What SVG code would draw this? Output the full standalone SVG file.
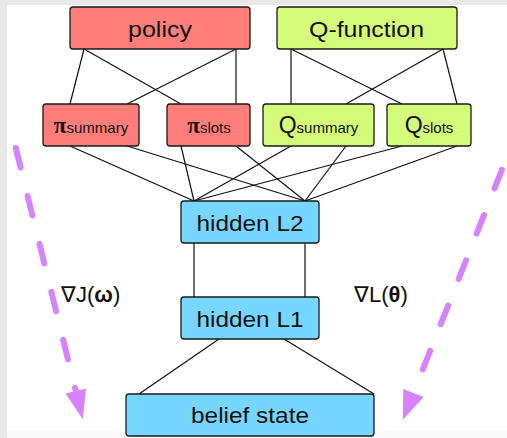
<svg xmlns="http://www.w3.org/2000/svg" width="507" height="438" viewBox="0 0 507 438">
  <style>
    .node rect { stroke: #1a1a1a; stroke-width: 1.3; }
    .red rect { fill: #ff7e79; }
    .green rect { fill: #d4fb79; }
    .blue rect { fill: #76d6ff; }
    .lbl { font-family: "Liberation Sans", Arial, sans-serif; font-size: 22px; fill: #111; text-anchor: middle; }
    .sub { font-family: "Liberation Sans", Arial, sans-serif; font-size: 15px; }
    .pi { font-family: "Liberation Serif", "Times New Roman", serif; font-weight: bold; font-size: 23px; }
    .q { font-family: "Liberation Sans", Arial, sans-serif; font-size: 23px; }
    .links line { stroke: #111; stroke-width: 1.2; }
    .grad line { stroke: #d783ff; stroke-width: 6; stroke-linecap: round; fill: none; }
    .grad polygon { fill: #d783ff; }
    .math { font-family: "Liberation Sans", Arial, sans-serif; font-size: 22px; fill: #111; }
    .bold { font-weight: bold; }
  </style>

  <!-- page background with soft frame edges -->
  <rect x="0" y="0" width="507" height="438" fill="#e8e8e8"/>
  <rect x="7" y="5" width="500" height="433" fill="#ffffff"/>
  <rect x="7" y="431" width="500" height="7" fill="#f8f8f8"/>

  <!-- connectors -->
  <g id="connectors" class="links">
    <!-- policy to heads -->
    <line x1="84" y1="49" x2="70" y2="104"/>
    <line x1="236" y1="49" x2="127" y2="104"/>
    <line x1="84" y1="49" x2="181" y2="104"/>
    <line x1="236" y1="49" x2="236" y2="104"/>
    <!-- Q-function to heads -->
    <line x1="291" y1="49" x2="291" y2="104"/>
    <line x1="443" y1="49" x2="346" y2="104"/>
    <line x1="291" y1="49" x2="402" y2="104"/>
    <line x1="443" y1="49" x2="457" y2="104"/>
    <!-- heads to hidden L2 -->
    <line x1="70" y1="146" x2="194" y2="201"/>
    <line x1="127" y1="146" x2="305" y2="201"/>
    <line x1="181" y1="146" x2="194" y2="201"/>
    <line x1="236" y1="146" x2="305" y2="201"/>
    <line x1="291" y1="146" x2="194" y2="201"/>
    <line x1="346" y1="146" x2="305" y2="201"/>
    <line x1="402" y1="146" x2="194" y2="201"/>
    <line x1="457" y1="146" x2="305" y2="201"/>
    <!-- hidden L2 to hidden L1 -->
    <line x1="194" y1="243" x2="194" y2="297"/>
    <line x1="305" y1="243" x2="305" y2="297"/>
    <!-- hidden L1 to belief state -->
    <line x1="219" y1="339" x2="139" y2="394"/>
    <line x1="284" y1="339" x2="374" y2="394"/>
  </g>

  <!-- gradient flow arrows -->
  <g id="grad-J" class="grad">
    <line x1="15.8" y1="148" x2="75.8" y2="391" stroke-dasharray="20 29.4"/>
    <polygon points="86,388.5 65.6,393.5 82.8,419.5"/>
  </g>
  <g id="grad-L" class="grad">
    <line x1="501.9" y1="169.8" x2="413.5" y2="393" stroke-dasharray="20 28.7"/>
    <polygon points="423.7,397 403.3,389 402.8,420"/>
  </g>
  <text id="label-J" class="math" x="61" y="302">∇J(<tspan class="bold">ω</tspan>)</text>
  <text id="label-L" class="math" x="354" y="302">∇L(<tspan class="bold">θ</tspan>)</text>

  <!-- output nodes -->
  <g id="policy" class="node red">
    <rect x="70" y="7" width="180" height="42" rx="3"/>
    <text class="lbl" x="160" y="37" textLength="64" lengthAdjust="spacingAndGlyphs">policy</text>
  </g>
  <g id="q-function" class="node green">
    <rect x="277" y="7" width="180" height="42" rx="3"/>
    <text class="lbl" x="366.5" y="37" textLength="115" lengthAdjust="spacingAndGlyphs">Q-function</text>
  </g>

  <!-- head nodes -->
  <g id="pi-summary" class="node red">
    <rect x="43" y="104" width="96" height="42" rx="3"/>
    <text class="lbl" x="91" y="133"><tspan class="pi">π</tspan><tspan class="sub">summary</tspan></text>
  </g>
  <g id="pi-slots" class="node red">
    <rect x="167" y="104" width="83" height="42" rx="3"/>
    <text class="lbl" x="209" y="133"><tspan class="pi">π</tspan><tspan class="sub">slots</tspan></text>
  </g>
  <g id="q-summary" class="node green">
    <rect x="263" y="104" width="111" height="42" rx="3"/>
    <text class="lbl" x="318.5" y="133"><tspan class="q">Q</tspan><tspan class="sub">summary</tspan></text>
  </g>
  <g id="q-slots" class="node green">
    <rect x="387" y="104" width="84" height="42" rx="3"/>
    <text class="lbl" x="429" y="133"><tspan class="q">Q</tspan><tspan class="sub">slots</tspan></text>
  </g>

  <!-- shared layers -->
  <g id="hidden-l2" class="node blue">
    <rect x="181" y="201" width="138" height="42" rx="3"/>
    <text class="lbl" x="250" y="231" textLength="107" lengthAdjust="spacingAndGlyphs">hidden L2</text>
  </g>
  <g id="hidden-l1" class="node blue">
    <rect x="181" y="297" width="138" height="42" rx="3"/>
    <text class="lbl" x="250" y="327" textLength="107" lengthAdjust="spacingAndGlyphs">hidden L1</text>
  </g>
  <g id="belief-state" class="node blue">
    <rect x="126" y="394" width="248" height="42" rx="3"/>
    <text class="lbl" x="250" y="423" textLength="118" lengthAdjust="spacingAndGlyphs">belief state</text>
  </g>
</svg>
